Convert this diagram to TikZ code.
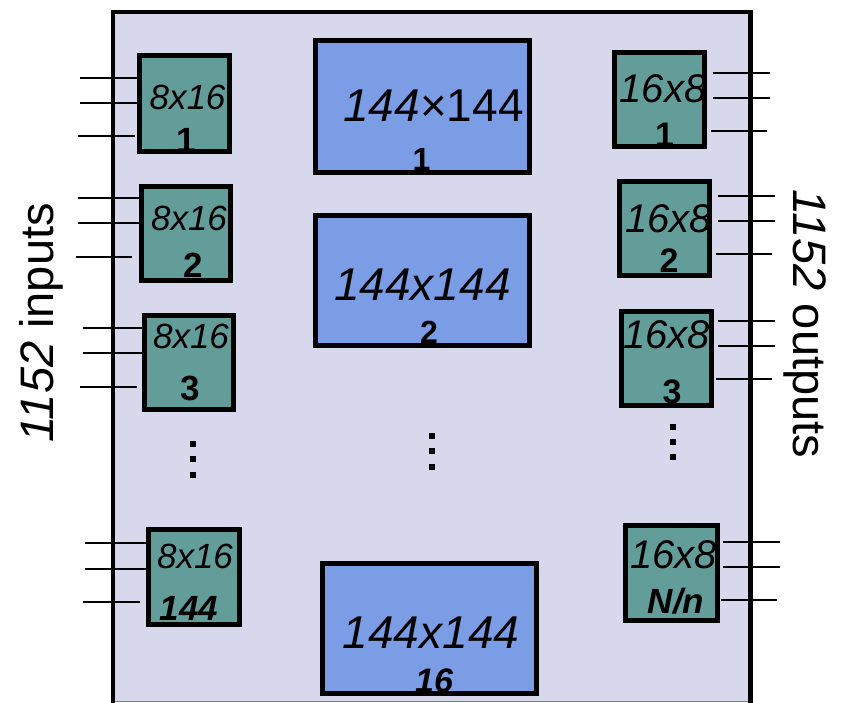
\documentclass[tikz,border=0pt]{standalone}
\usepackage{fontspec}
\setmainfont{Liberation Sans}
\definecolor{bgc}{HTML}{D8D8EC}
\definecolor{tealc}{HTML}{639D9A}
\definecolor{bluec}{HTML}{7A9DE6}
\newcommand{\fsz}[1]{\fontsize{#1}{#1}\selectfont}
\begin{document}
\begin{tikzpicture}[x=1pt,y=-1pt,
  tealbox/.style={rectangle, fill=tealc, inner sep=0pt, outer sep=0pt},
  bluebox/.style={rectangle, fill=bluec, inner sep=0pt, outer sep=0pt},
  bord/.style={draw=black, line width=5pt},
  wire/.style={draw=black, line width=2.2pt},
  lbl/.style={anchor=base, inner sep=0pt, outer sep=0pt},
  smalltxt/.style={lbl, font=\fsz{35}\itshape},
  smallnum/.style={lbl, font=\fsz{35}\bfseries},
  rtxt/.style={lbl, font=\fsz{40}\itshape},
  rnum/.style={lbl, font=\fsz{34}\bfseries},
  bigtxt/.style={lbl, font=\fsz{46}\itshape},
  bignum/.style={lbl, font=\fsz{32}\bfseries},
  dotsq/.style={rectangle, fill=black, minimum size=6pt, inner sep=0pt}]
\useasboundingbox (0,0) rectangle (842,703);
% background panel
\fill[bgc] (113,12) rectangle (750,701);
\draw[gray, line width=1pt] (113,701) -- (750,701);
\draw[black, line width=4.3pt] (113,703) -- (113,12) -- (750.5,12) -- (750.5,703);

% ---- left boxes ----
\node[tealbox, minimum width=90, minimum height=96] (L1) at (184.5,103.5) {};
\node[tealbox, minimum width=89, minimum height=94] (L2) at (186,233.5) {};
\node[tealbox, minimum width=89, minimum height=94] (L3) at (189,362.5) {};
\node[tealbox, minimum width=91, minimum height=95] (L4) at (194,577) {};
% ---- centre boxes ----
\node[bluebox, minimum width=214, minimum height=132] (C1) at (422.5,106.5) {};
\node[bluebox, minimum width=214, minimum height=130] (C2) at (422.5,280.5) {};
\node[bluebox, minimum width=214, minimum height=130] (C3) at (429.5,628.5) {};
% ---- right boxes ----
\node[tealbox, minimum width=90, minimum height=94] (R1) at (659.5,99.5) {};
\node[tealbox, minimum width=90, minimum height=94] (R2) at (664.5,228.5) {};
\node[tealbox, minimum width=90, minimum height=94] (R3) at (666.5,358.5) {};
\node[tealbox, minimum width=92, minimum height=95] (R4) at (671.5,573) {};

% ---- labels ----
\node[smalltxt] (L1t) at (187.5,110) {8x16};
\node[smallnum] (L1n) at (186,153) {1};
\node[smalltxt] (L2t) at (189,230) {8x16};
\node[smallnum] (L2n) at (193,277) {2};
\node[smalltxt] (L3t) at (191,348) {8x16};
\node[smallnum] (L3n) at (190,400) {3};
\node[smalltxt] (L4t) at (195,568) {8x16};
\node[smallnum, font=\fsz{35}\bfseries\itshape] (L4n) at (189,620) {144};

\node[bigtxt, font=\fsz{46}] (C1t) at (433.5,122) {\textit{144}×144};
\node[bignum] (C1n) at (421.5,171) {1};
\node[bigtxt] (C2t) at (422.5,300) {144x144};
\node[bignum] (C2n) at (429,343) {2};
\node[bigtxt] (C3t) at (431,648) {144x144};
\node[bignum, font=\fsz{34}\bfseries\itshape] (C3n) at (434,692) {16};

\node[rtxt] (R1t) at (663,103) {16x8};
\node[rnum] (R1n) at (664.5,147) {1};
\node[rtxt] (R2t) at (668.5,233) {16x8};
\node[rnum] (R2n) at (669,272) {2};
\node[rtxt] (R3t) at (666.5,348) {16x8};
\node[rnum] (R3n) at (672,403) {3};
\node[rtxt] (R4t) at (673.5,568) {16x8};
\node[rnum, font=\fsz{35}\bfseries\itshape] (R4n) at (676,613) {N/n};

% ---- borders drawn over the labels ----
\foreach \b in {L1,L2,L3,L4,C1,C2,C3,R1,R2,R3,R4}
  \draw[bord] (\b.south west) rectangle (\b.north east);

% ---- input wires ----
\draw[wire] (80,78) -- (80,78 -| L1.west);
\draw[wire] (80,103) -- (80,103 -| L1.west);
\draw[wire] (78,136) -- (135,136);
\draw[wire] (78,198) -- (78,198 -| L2.west);
\draw[wire] (78,223) -- (78,223 -| L2.west);
\draw[wire] (76,257) -- (132,257);
\draw[wire] (83,328) -- (83,328 -| L3.west);
\draw[wire] (83,353) -- (83,353 -| L3.west);
\draw[wire] (80,387) -- (137,387);
\draw[wire] (85,543) -- (85,543 -| L4.west);
\draw[wire] (85,569) -- (85,569 -| L4.west);
\draw[wire] (83,602) -- (140,602);
% ---- output wires ----
\draw[wire] (713,73) -- (770,73);
\draw[wire] (713,98) -- (770,98);
\draw[wire] (711,131) -- (767,131);
\draw[wire] (718,196) -- (775,196);
\draw[wire] (718,221) -- (775,221);
\draw[wire] (716,254) -- (772,254);
\draw[wire] (718,321) -- (775,321);
\draw[wire] (718,346) -- (775,346);
\draw[wire] (716,379) -- (772,379);
\draw[wire] (723,542) -- (780,542);
\draw[wire] (723,567) -- (780,567);
\draw[wire] (721,600) -- (777,600);

% ---- vertical ellipses ----
\node[dotsq] (dl1) at (193,444) {};
\node[dotsq] (dl2) at (193,459) {};
\node[dotsq] (dl3) at (193,475) {};
\node[dotsq] (dc1) at (432,436) {};
\node[dotsq] (dc2) at (432,451) {};
\node[dotsq] (dc3) at (432,467) {};
\node[dotsq] (dr1) at (673,427) {};
\node[dotsq] (dr2) at (673,442) {};
\node[dotsq] (dr3) at (673,457) {};

% ---- side labels ----
\node[lbl, rotate=90, font=\fsz{47}] (inl) at (53,323) {\textit{1152} inputs};
\node[lbl, rotate=-90, font=\fsz{47}] (outl) at (793,324) {\textit{1152} outputs};
\end{tikzpicture}
\end{document}
